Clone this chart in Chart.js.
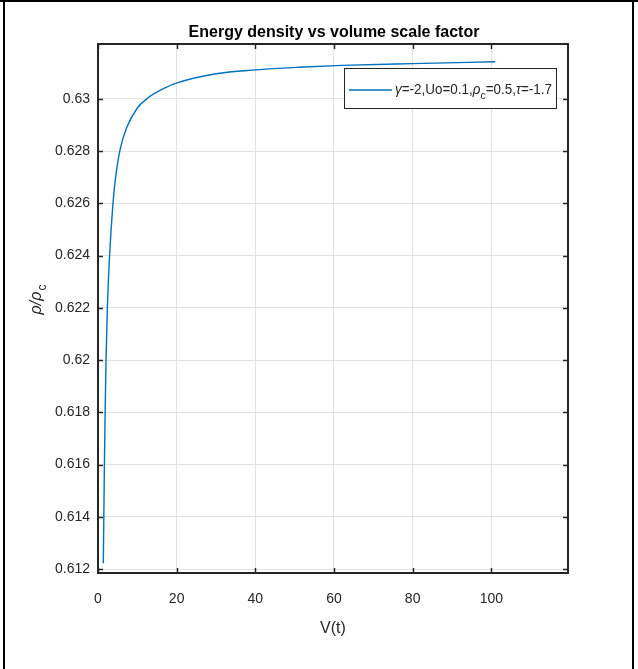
<!DOCTYPE html>
<html>
<head>
<meta charset="utf-8">
<script src="https://cdn.jsdelivr.net/npm/chart.js@4.4.1/dist/chart.umd.min.js"></script>
<style>
  html, body { margin: 0; padding: 0; background: #fff; }
  #wrap { width: 638px; height: 669px; position: relative; }
</style>
</head>
<body>
<div id="wrap"><canvas id="c" width="638" height="669"></canvas></div>
<script>
// ---- data ----
const chartTitle = "Energy density vs volume scale factor";
const xAxisTitle = "V(t)";
const seriesLabel = "γ=-2,Uo=0.1,ρc=0.5,τ=-1.7";
const vValues   = [1.35, 1.48, 1.63, 1.81, 2.04, 2.39, 2.95, 3.82, 4.40, 5.60, 7.38, 10.05, 12.72, 17.05, 20.1, 30, 40, 51, 62, 80, 101];
const rhoValues = [0.61222, 0.61398, 0.61598, 0.61797, 0.62000, 0.62203, 0.62402, 0.62602, 0.62690, 0.62805, 0.62893, 0.62966, 0.63004, 0.63042, 0.63061, 0.63096, 0.63111, 0.63121, 0.63128, 0.63135, 0.63142];
const xTicks = [0, 20, 40, 60, 80, 100];
const yTicks = [0.612, 0.614, 0.616, 0.618, 0.62, 0.622, 0.624, 0.626, 0.628, 0.63];
const xMin = 0, xMax = 119.5;
const yMin = 0.61185, yMax = 0.6321;

const FONT = "'Liberation Sans', Arial, Helvetica, sans-serif";
const AX = '#262626';
const LINE = '#0072BD';

const points = vValues.map((v, i) => ({ x: v, y: rhoValues[i] }));

const decor = {
  id: 'decor',
  beforeDraw(chart) {
    const ctx = chart.ctx;
    ctx.save();
    ctx.fillStyle = '#fff';
    ctx.fillRect(0, 0, chart.width, chart.height);
    ctx.restore();
  },
  afterDraw(chart) {
    const ctx = chart.ctx;
    const a = chart.chartArea;
    const xs = chart.scales.x, ys = chart.scales.y;
    ctx.save();
    // outer frame
    ctx.fillStyle = '#000';
    ctx.fillRect(0, 0, 638, 2);
    ctx.fillRect(3, 0, 2, 669);
    ctx.fillRect(632, 0, 2, 669);

    // axes box
    ctx.strokeStyle = AX;
    ctx.lineWidth = 2;
    ctx.strokeRect(a.left, a.top, a.right - a.left, a.bottom - a.top);

    // inward ticks
    ctx.lineWidth = 1.5;
    ctx.beginPath();
    yTicks.forEach(v => {
      const y = Math.round(ys.getPixelForValue(v)) + 0.5;
      ctx.moveTo(a.left, y); ctx.lineTo(a.left + 5, y);
      ctx.moveTo(a.right, y); ctx.lineTo(a.right - 5, y);
    });
    xTicks.forEach(v => {
      const x = Math.round(xs.getPixelForValue(v)) + 0.5;
      ctx.moveTo(x, a.bottom); ctx.lineTo(x, a.bottom - 5);
      ctx.moveTo(x, a.top); ctx.lineTo(x, a.top + 5);
    });
    ctx.stroke();

    // title
    ctx.fillStyle = '#000';
    ctx.font = 'bold 16px ' + FONT;
    ctx.textAlign = 'center';
    ctx.textBaseline = 'middle';
    ctx.fillText(chartTitle, 334, 33);

    // x axis title
    ctx.fillStyle = AX;
    ctx.font = '16px ' + FONT;
    ctx.fillText(xAxisTitle, (a.left + a.right) / 2, 629);

    // y axis title: rho / rho_c (rotated)
    ctx.save();
    ctx.translate(37, 300);
    ctx.rotate(-Math.PI / 2);
    ctx.textAlign = 'left';
    ctx.textBaseline = 'alphabetic';
    const main = 'ρ/ρ';
    ctx.font = 'italic 16px ' + FONT;
    const wMain = ctx.measureText(main).width;
    ctx.font = '12px ' + FONT;
    const wSub = ctx.measureText('c').width;
    const x0 = -(wMain + wSub) / 2;
    ctx.font = 'italic 16px ' + FONT;
    ctx.fillText(main, x0, 4);
    ctx.font = '12px ' + FONT;
    ctx.fillText('c', x0 + wMain + 1, 9);
    ctx.restore();

    // legend
    const lx = 344, ly = 68, lw = 212, lh = 40;
    ctx.fillStyle = '#fff';
    ctx.fillRect(lx, ly, lw, lh);
    ctx.strokeStyle = AX;
    ctx.lineWidth = 1;
    ctx.strokeRect(lx + 0.5, ly + 0.5, lw, lh);
    ctx.strokeStyle = LINE;
    ctx.lineWidth = 1.4;
    ctx.beginPath();
    ctx.moveTo(349, 90); ctx.lineTo(392, 90);
    ctx.stroke();

    // legend text with subscript c after rho
    const parts = [
      { t: 'γ', f: 'italic 14px ', dy: 0 },
      { t: '=-2,Uo=0.1,', f: '14px ', dy: 0 },
      { t: 'ρ', f: 'italic 14px ', dy: 0 },
      { t: 'c', f: '11px ', dy: 5 },
      { t: '=0.5,', f: '14px ', dy: 0 },
      { t: 'τ', f: 'italic 14px ', dy: 0 },
      { t: '=-1.7', f: '14px ', dy: 0 }
    ];
    let total = 0;
    parts.forEach(p => { ctx.font = p.f + FONT; total += ctx.measureText(p.t).width; });
    const sx = Math.min(1, 157 / total);
    ctx.save();
    ctx.translate(395, 94);
    ctx.scale(sx, 1);
    ctx.fillStyle = AX;
    ctx.textAlign = 'left';
    ctx.textBaseline = 'alphabetic';
    let tx = 0;
    parts.forEach(p => {
      ctx.font = p.f + FONT;
      ctx.fillText(p.t, tx, p.dy);
      tx += ctx.measureText(p.t).width;
    });
    ctx.restore();
    ctx.restore();
  }
};

new Chart(document.getElementById('c'), {
  type: 'scatter',
  data: {
    datasets: [{
      label: seriesLabel,
      data: points,
      showLine: true,
      borderColor: LINE,
      backgroundColor: LINE,
      borderWidth: 1.4,
      pointRadius: 0,
      cubicInterpolationMode: 'monotone'
    }]
  },
  options: {
    responsive: false,
    animation: false,
    devicePixelRatio: 1,
    layout: { padding: { left: 0, right: 70, top: 44, bottom: 0 } },
    plugins: { legend: { display: false }, title: { display: false }, tooltip: { enabled: false } },
    scales: {
      x: {
        type: 'linear',
        min: xMin, max: xMax,
        afterBuildTicks: s => { s.ticks = xTicks.map(v => ({ value: v })); },
        afterFit: s => { s.height = 96; },
        grid: { color: '#e3e3e3', lineWidth: 1, drawTicks: false },
        border: { display: false },
        ticks: { color: AX, font: { family: FONT, size: 14 }, padding: 18, maxRotation: 0, callback: v => String(v) }
      },
      y: {
        type: 'linear',
        min: yMin, max: yMax,
        afterBuildTicks: s => { s.ticks = yTicks.map(v => ({ value: v })); },
        afterFit: s => { s.width = 98; },
        grid: { color: '#e3e3e3', lineWidth: 1, drawTicks: false },
        border: { display: false },
        ticks: { color: AX, font: { family: FONT, size: 14 }, padding: 8, callback: v => String(+(+v).toFixed(3)) }
      }
    }
  },
  plugins: [decor]
});
</script>
</body>
</html>
